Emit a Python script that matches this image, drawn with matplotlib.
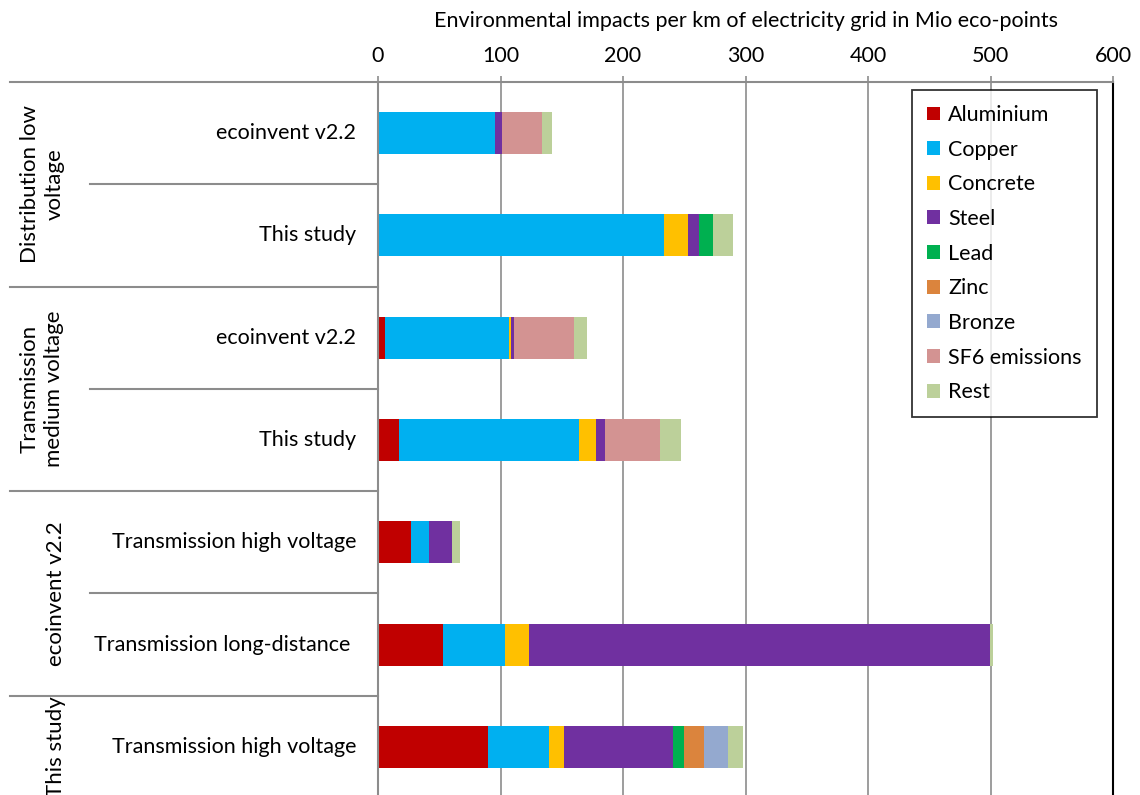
import matplotlib.pyplot as plt
import matplotlib.transforms as mtransforms
from matplotlib.lines import Line2D
from matplotlib.patches import Patch

plt.rcParams["font.family"] = ["Lato", "DejaVu Sans"]

# rows, top to bottom
row_labels = ["ecoinvent v2.2", "This study", "ecoinvent v2.2", "This study",
              "Transmission high voltage", "Transmission long-distance",
              "Transmission high voltage"]
group_labels = ["Distribution low\nvoltage", "Transmission\nmedium voltage",
                "ecoinvent v2.2", "This study"]
group_rows = [(0, 1), (2, 3), (4, 5), (6, 6)]

materials = ["Aluminium", "Copper", "Concrete", "Steel", "Lead", "Zinc",
             "Bronze", "SF6 emissions", "Rest"]
aluminium = [0, 0, 5.7, 17.4, 26.9, 53.2, 89.4]
copper = [95.4, 233.1, 101.6, 146.4, 14.7, 50.3, 50.2]
concrete = [0, 19.6, 1.4, 14.4, 0, 19.6, 12.3]
steel = [5.9, 9.2, 2.1, 6.8, 19.0, 376.1, 88.8]
lead = [0, 11.9, 0, 0, 0, 0, 9.5]
zinc = [0, 0, 0, 0, 0, 0, 16.3]
bronze = [0, 0, 0, 0, 0, 0, 19.6]
sf6 = [32.4, 0, 48.9, 44.8, 0, 0, 0]
rest = [8.7, 15.8, 11.2, 17.7, 6.2, 2.6, 11.9]
series = [aluminium, copper, concrete, steel, lead, zinc, bronze, sf6, rest]
colors = ["#C00000", "#00B0F0", "#FFC000", "#7030A0", "#00B050", "#DB843D",
          "#94A9CF", "#D39392", "#BCD09A"]

W, H = 1140, 795
fig = plt.figure(figsize=(W / 100, H / 100), dpi=100)
ax = fig.add_axes([378 / W, -3 / H, 735 / W, 716 / H])

ypos = list(range(len(row_labels)))
left = [0] * len(ypos)
for vals, c, name in zip(series, colors, materials):
    ax.barh(ypos, vals, left=left, height=0.41, color=c, label=name, linewidth=0)
    left = [a + b for a, b in zip(left, vals)]

ax.set_xlim(0, 600)
ax.set_ylim(6.5, -0.5)
ax.set_xticks(range(0, 601, 100))
ax.xaxis.tick_top()
ax.xaxis.set_label_position("top")
ax.tick_params(axis="x", length=4.5, width=1.2, color="#8c8c8c", pad=7, labelsize=15.5)
ax.set_xlabel("Environmental impacts per km of electricity grid in Mio eco-points",
              fontsize=15.5, labelpad=14)
ax.set_yticks([])
ax.grid(axis="x", color="#8c8c8c", linewidth=1.2)
ax.set_axisbelow(True)
for s in ["left", "top"]:
    ax.spines[s].set_color("#8c8c8c")
    ax.spines[s].set_linewidth(1.5)
ax.spines["right"].set_color("black")
ax.spines["right"].set_linewidth(1.5)
ax.spines["bottom"].set_visible(False)

# category labels
lab_tr = mtransforms.blended_transform_factory(fig.transFigure, ax.transData)
for i, lab in enumerate(row_labels):
    xr = 350 if "long" in lab else 356
    ax.text(xr / W, i, lab, transform=lab_tr, ha="right", va="center", fontsize=15.5)

# separators
for b in [-0.5, 1.5, 3.5, 5.5]:
    fig.add_artist(Line2D([10 / W, 378 / W], [b, b], transform=lab_tr,
                          color="#8c8c8c", linewidth=1.5))
for b in [0.5, 2.5, 4.5]:
    fig.add_artist(Line2D([90 / W, 378 / W], [b, b], transform=lab_tr,
                          color="#8c8c8c", linewidth=1.5))

for lab, (r0, r1) in zip(group_labels, group_rows):
    xc = 42 if "\n" in lab else 56
    ax.text(xc / W, (r0 + r1) / 2, lab, transform=lab_tr, rotation=90,
            ha="center", va="center", multialignment="center", fontsize=16,
            linespacing=1.3)

handles = [Patch(facecolor=c, label=m) for c, m in zip(colors, materials)]
leg = fig.legend(handles=handles, loc="upper left",
                 bbox_to_anchor=(912 / W, 1 - 90 / H), fontsize=15.5,
                 frameon=True, fancybox=False, edgecolor="black",
                 handlelength=0.62, handleheight=0.62, handletextpad=0.35,
                 labelspacing=0.68, borderpad=0.7, borderaxespad=0)
leg.get_frame().set_linewidth(1.3)

fig.savefig("out.png", dpi=100)
